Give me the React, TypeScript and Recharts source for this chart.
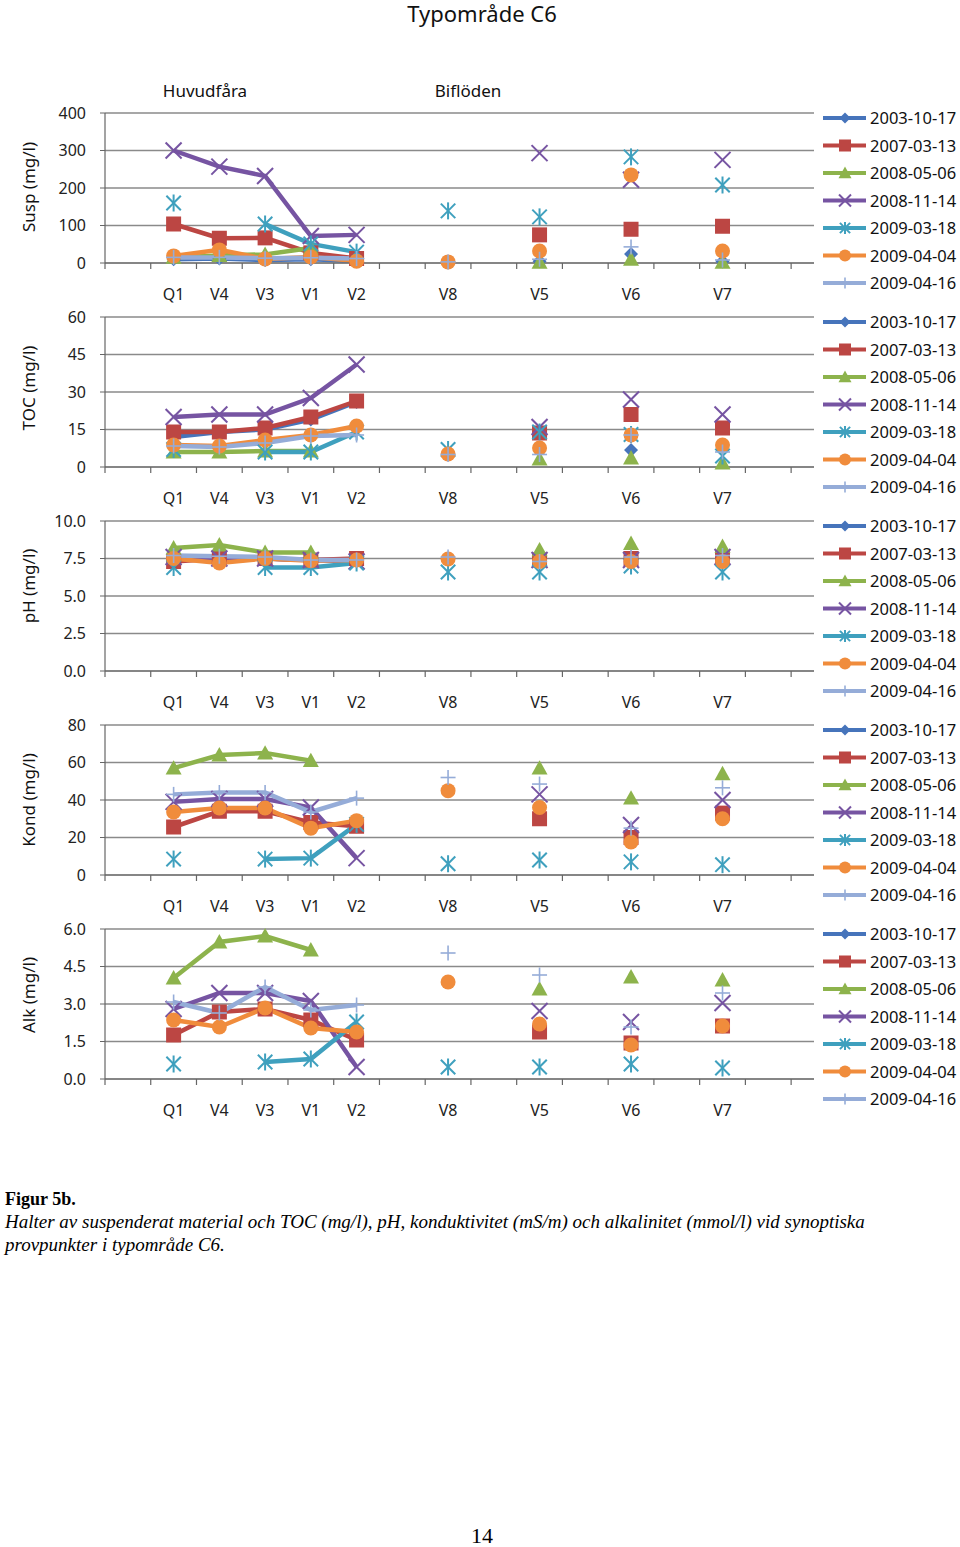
import React from "react";
import { LineChart, Line, XAxis, YAxis, CartesianGrid } from "recharts";

// stations along the main river (Q1..V2) and the tributaries (V8..V7)
const stations = ["Q1", "V4", "V3", "V1", "V2", "V8", "V5", "V6", "V7"];
const bandPos = [1, 2, 3, 4, 5, 7, 9, 11, 13];

const dates = ["2003-10-17", "2007-03-13", "2008-05-06", "2008-11-14", "2009-03-18", "2009-04-04", "2009-04-16"];
const colors = ["#4674BB", "#BC4643", "#8DB34C", "#7654A2", "#3FA0BE", "#F08C3C", "#95ACD8"];
const shapes = ["diamond", "square", "triangle", "x", "star", "circle", "plus"];

// one row per date, values per station (Q1, V4, V3, V1, V2, V8, V5, V6, V7)
const suspValues = [
  [10, 12, 8, 10, 5, null, 5, 24, 4],
  [104, 66, 67, 27, 12, null, 75, 90, 98],
  [15, 20, 23, 40, null, null, 2, 10, 2],
  [300, 257, 232, 72, 75, null, 293, 222, 275],
  [160, null, 104, 51, 29, 139, 123, 283, 208],
  [19, 35, 11, 16, 5, 3, 32, 235, 32],
  [15, 15, 13, 14, 12, 3, 10, 43, 8],
];
const tocValues = [
  [12, 14, 15, 19, 26, null, null, 6.8, null],
  [14, 14, 15.6, 20, 26.4, null, 13.6, 21, 15.6],
  [6, 6, 6.4, 6.4, null, null, 3.2, 3.6, 1.6],
  [20, 21, 21, 27.6, 41, null, 16, 27, 21],
  [7, null, 6, 6, 14, 7, 14, 13, 4.4],
  [8.8, 8.4, 10.8, 12.8, 16.4, 5.2, 7.6, 12.8, 8.8],
  [8.4, 8, 9.6, 12.4, 12.8, 5, 5, 12.8, 6],
];
const phValues = [
  [7.4, 7.5, 7.5, 7.4, 7.4, null, 7.4, 7.6, 7.5],
  [7.3, 7.5, 7.5, 7.4, 7.5, null, 7.4, 7.5, 7.5],
  [8.2, 8.4, 7.9, 7.9, null, null, 8.07, 8.5, 8.3],
  [7.6, 7.5, 7.5, 7.4, 7.3, null, 7.4, 7.4, 7.6],
  [6.9, null, 6.9, 6.9, 7.2, 6.6, 6.6, 7.0, 6.6],
  [7.5, 7.2, 7.5, 7.35, 7.4, 7.47, 7.3, 7.3, 7.3],
  [7.7, 7.65, 7.6, 7.4, 7.4, 7.6, 7.3, 7.6, 7.7],
];
const kondValues = [
  [null, null, null, null, null, null, null, null, null],
  [25.6, 34, 34, 28, 26, null, 30, 20, 33],
  [57, 64, 65, 61, null, null, 57, 41, 54],
  [39, 40.5, 40.5, 36, 9, null, 43, 26.7, 40],
  [8.5, null, 8.5, 9, 27, 6, 8, 7, 5.5],
  [33.6, 35.7, 35.7, 25, 29, 45, 36, 17.6, 30],
  [43, 44, 44, 33.6, 41, 52, 48.5, 25, 46.5],
];
const alkValues = [
  [null, null, null, null, null, null, null, null, null],
  [1.76, 2.68, 2.8, 2.36, 1.56, null, 1.88, 1.44, 2.12],
  [4.04, 5.48, 5.72, 5.16, null, null, 3.6, 4.08, 3.96],
  [2.8, 3.44, 3.44, 3.12, 0.48, null, 2.72, 2.28, 3.04],
  [0.6, null, 0.68, 0.8, 2.28, 0.48, 0.48, 0.6, 0.44],
  [2.36, 2.08, 2.84, 2.04, 1.88, 3.88, 2.2, 1.36, 2.12],
  [3.08, 2.64, 3.68, 2.76, 2.96, 5.04, 4.16, 2.08, 3.44],
];

const suspTicks = [0, 100, 200, 300, 400];
const tocTicks = [0, 15, 30, 45, 60];
const phTicks = [0, 2.5, 5, 7.5, 10];
const kondTicks = [0, 20, 40, 60, 80];
const alkTicks = [0, 1.5, 3, 4.5, 6];

const panels = [
  { title: "Susp (mg/l)", values: suspValues, ticks: suspTicks, dec: 0, top: 113, titleY: 187 },
  { title: "TOC (mg/l)", values: tocValues, ticks: tocTicks, dec: 0, top: 317, titleY: 388 },
  { title: "pH (mg/l)", values: phValues, ticks: phTicks, dec: 1, top: 521, titleY: 586 },
  { title: "Kond (mg/l)", values: kondValues, ticks: kondTicks, dec: 0, top: 725, titleY: 800 },
  { title: "Alk (mg/l)", values: alkValues, ticks: alkTicks, dec: 1, top: 929, titleY: 995 },
];

const FONT = "'Noto Sans', sans-serif";
const xTicks: number[] = [];
for (let i = 0; i <= 30; i++) xTicks.push(i / 2);

function buildRows(values: (number | null)[][]) {
  const rows: any[] = [];
  for (let b = 1; b <= 13; b++) {
    const idx = bandPos.indexOf(b);
    const row: any = { x: b + 0.5 };
    dates.forEach((_, d) => {
      row["s" + d] = idx >= 0 ? values[d][idx] : null;
    });
    rows.push(row);
  }
  return rows;
}

function Marker({ shape, cx, cy, color, s }: any) {
  switch (shape) {
    case "diamond":
      return <path d={`M${cx},${cy - s}L${cx + s},${cy}L${cx},${cy + s}L${cx - s},${cy}Z`} fill={color} />;
    case "square":
      return <rect x={cx - s} y={cy - s} width={2 * s} height={2 * s} fill={color} />;
    case "triangle":
      return <path d={`M${cx},${cy - s}L${cx + s},${cy + s * 0.8}L${cx - s},${cy + s * 0.8}Z`} fill={color} />;
    case "x":
      return (
        <g stroke={color} strokeWidth={2}>
          <line x1={cx - s} y1={cy - s} x2={cx + s} y2={cy + s} />
          <line x1={cx - s} y1={cy + s} x2={cx + s} y2={cy - s} />
        </g>
      );
    case "star":
      return (
        <g stroke={color} strokeWidth={2}>
          <line x1={cx - s * 0.85} y1={cy - s * 0.85} x2={cx + s * 0.85} y2={cy + s * 0.85} />
          <line x1={cx - s * 0.85} y1={cy + s * 0.85} x2={cx + s * 0.85} y2={cy - s * 0.85} />
          <line x1={cx} y1={cy - s} x2={cx} y2={cy + s} />
        </g>
      );
    case "circle":
      return <circle cx={cx} cy={cy} r={s} fill={color} />;
    default:
      return (
        <g stroke={color} strokeWidth={1.6}>
          <line x1={cx - s} y1={cy} x2={cx + s} y2={cy} />
          <line x1={cx} y1={cy - s} x2={cx} y2={cy + s} />
        </g>
      );
  }
}

const chartSize = [7, 7.5, 8, 8, 8.5, 7.5, 7.5];
const legendSize = [5.5, 6, 6.5, 6, 6, 6, 5.5];

const renderDot = (d: number) => (p: any) => {
  if (p.cy == null || p.value == null) return <g key={p.index} />;
  return (
    <g key={p.index}>
      <Marker shape={shapes[d]} cx={p.cx} cy={p.cy} color={colors[d]} s={chartSize[d]} />
    </g>
  );
};

const XTick = (props: any) => {
  const { x, y, payload } = props;
  const v = payload.value;
  if (Number.isInteger(v)) {
    return <line x1={x} x2={x} y1={y} y2={y + 6} stroke="#666" strokeWidth={1.2} />;
  }
  const idx = bandPos.indexOf(Math.floor(v));
  if (idx < 0) return <g />;
  return (
    <text x={x} y={y + 37} textAnchor="middle" fontSize={16} fill="#222" fontFamily={FONT}>
      {stations[idx]}
    </text>
  );
};

function Panel({ cfg }: any) {
  const rows = buildRows(cfg.values);
  return (
    <div style={{ position: "absolute", left: 0, top: cfg.top - 10 }}>
      <LineChart width={820} height={215} data={rows} margin={{ top: 10, right: 6, bottom: 0, left: 0 }}>
        <CartesianGrid vertical={false} stroke="#8a8a8a" strokeWidth={1.3} />
        <XAxis
          dataKey="x"
          type="number"
          domain={[0, 15.5]}
          ticks={xTicks}
          interval={0}
          tick={<XTick />}
          tickLine={false}
          tickSize={0}
          tickMargin={0}
          height={55}
          axisLine={{ stroke: "#666", strokeWidth: 1.2 }}
        />
        <YAxis
          type="number"
          domain={[cfg.ticks[0], cfg.ticks[cfg.ticks.length - 1]]}
          ticks={cfg.ticks}
          interval={0}
          width={105}
          tickSize={5}
          tickMargin={14}
          tickFormatter={(v: number) => v.toFixed(cfg.dec)}
          tick={{ fontSize: 16, fill: "#222", fontFamily: FONT }}
          tickLine={{ stroke: "#666" }}
          axisLine={{ stroke: "#666", strokeWidth: 1.2 }}
        />
        {dates.map((name, d) => (
          <Line
            key={name}
            dataKey={"s" + d}
            name={name}
            stroke={colors[d]}
            strokeWidth={4.5}
            dot={renderDot(d)}
            activeDot={false}
            connectNulls={false}
            isAnimationActive={false}
          />
        ))}
      </LineChart>
    </div>
  );
}

function Legend({ top }: { top: number }) {
  return (
    <svg style={{ position: "absolute", left: 815, top: top - 10 }} width={145} height={200}>
      {dates.map((name, d) => {
        const y = 15 + 27.5 * d;
        return (
          <g key={name}>
            <line x1={8} x2={51} y1={y} y2={y} stroke={colors[d]} strokeWidth={4} />
            <Marker shape={shapes[d]} cx={30} cy={y} color={colors[d]} s={legendSize[d]} />
            <text x={55} y={y + 6} fontSize={16.5} fill="#111" fontFamily={FONT}>
              {name}
            </text>
          </g>
        );
      })}
    </svg>
  );
}

const headStyle: React.CSSProperties = {
  position: "absolute",
  textAlign: "center",
  fontFamily: FONT,
  color: "#111",
  whiteSpace: "nowrap",
};

export default function App() {
  return (
    <div style={{ position: "absolute", left: 0, top: 0, width: 960, height: 1547, background: "#fff", fontFamily: FONT }}>
      <div style={{ ...headStyle, left: 382, width: 200, top: -2, fontSize: 22, lineHeight: "30px" }}>Typområde C6</div>
      <div style={{ ...headStyle, left: 145, width: 120, top: 78, fontSize: 17, lineHeight: "26px" }}>Huvudfåra</div>
      <div style={{ ...headStyle, left: 408, width: 120, top: 78, fontSize: 17, lineHeight: "26px" }}>Biflöden</div>
      <svg style={{ position: "absolute", left: 0, top: 100 }} width={60} height={1000}>
        {panels.map((p) => (
          <text
            key={p.title}
            x={28}
            y={p.titleY - 100}
            textAnchor="middle"
            dominantBaseline="central"
            fontSize={17}
            fill="#111"
            fontFamily={FONT}
            transform={`rotate(-90 28 ${p.titleY - 100})`}
          >
            {p.title}
          </text>
        ))}
      </svg>
      {panels.map((p) => (
        <Panel key={p.title} cfg={p} />
      ))}
      {panels.map((p) => (
        <Legend key={p.title} top={p.top} />
      ))}
      <div style={{ position: "absolute", left: 5, top: 1188, fontFamily: "'Liberation Serif', serif", color: "#000" }}>
        <div style={{ fontWeight: "bold", fontSize: 18, lineHeight: "22px" }}>Figur 5b.</div>
        <div style={{ fontStyle: "italic", fontSize: 19, lineHeight: "23px", width: 940, whiteSpace: "nowrap" }}>
          Halter av suspenderat material och TOC (mg/l), pH, konduktivitet (mS/m) och alkalinitet (mmol/l) vid synoptiska
          <br />
          provpunkter i typområde C6.
        </div>
      </div>
      <div
        style={{
          position: "absolute",
          left: 0,
          width: 964,
          top: 1523,
          textAlign: "center",
          fontFamily: "'Liberation Serif', serif",
          fontSize: 22,
          lineHeight: "26px",
        }}
      >
        14
      </div>
    </div>
  );
}
